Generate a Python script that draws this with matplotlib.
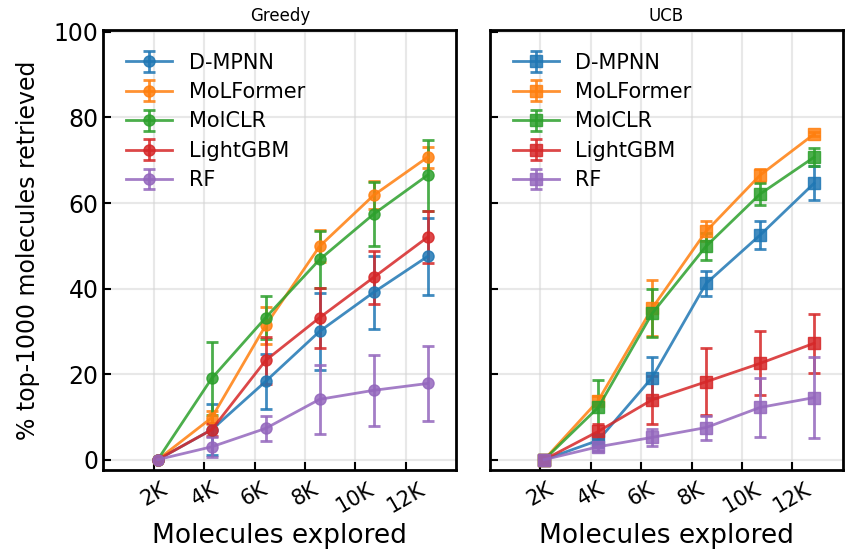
import numpy as np
import matplotlib.pyplot as plt

# Molecules explored at each acquisition step
explored = [2160, 4300, 6440, 8580, 10720, 12860]

models = ['D-MPNN', 'MoLFormer', 'MolCLR', 'LightGBM', 'RF']
colors = ['tab:blue', 'tab:orange', 'tab:green', 'tab:red', 'tab:purple']

# Greedy: mean and std of % top-1000 retrieved
greedy_mean = {
    'D-MPNN':    [0, 7.0, 18.3, 30.0, 39.1, 47.5],
    'MoLFormer': [0, 9.8, 31.4, 49.9, 61.8, 70.7],
    'MolCLR':    [0, 19.0, 33.2, 46.8, 57.4, 66.5],
    'LightGBM':  [0, 7.0, 23.2, 33.2, 42.6, 52.0],
    'RF':        [0, 3.0, 7.3, 14.1, 16.2, 17.8],
}
greedy_std = {
    'D-MPNN':    [0, 6.0, 6.5, 9.0, 8.5, 9.0],
    'MoLFormer': [0, 1.5, 4.3, 3.7, 3.3, 2.5],
    'MolCLR':    [0, 8.6, 5.0, 6.6, 7.4, 8.3],
    'LightGBM':  [0, 1.5, 5.5, 7.0, 6.2, 6.1],
    'RF':        [0, 2.3, 3.0, 8.0, 8.3, 8.7],
}

# UCB
ucb_mean = {
    'D-MPNN':    [0, 4.5, 19.2, 41.2, 52.5, 64.6],
    'MoLFormer': [0, 13.8, 35.4, 53.4, 66.5, 76.1],
    'MolCLR':    [0, 12.2, 34.2, 49.9, 62.1, 70.7],
    'LightGBM':  [0, 6.6, 14.0, 18.2, 22.5, 27.2],
    'RF':        [0, 3.0, 5.2, 7.5, 12.2, 14.5],
}
ucb_std = {
    'D-MPNN':    [0, 1.5, 4.7, 2.9, 3.3, 4.0],
    'MoLFormer': [0, 1.0, 6.5, 2.3, 1.5, 0.5],
    'MolCLR':    [0, 6.5, 5.6, 3.2, 2.5, 2.1],
    'LightGBM':  [0, 1.8, 5.6, 7.8, 7.5, 6.9],
    'RF':        [0, 1.0, 2.0, 2.8, 6.8, 9.4],
}

xticks = [2000, 4000, 6000, 8000, 10000, 12000]
xticklabels = ['2K', '4K', '6K', '8K', '10K', '12K']

fig, axes = plt.subplots(1, 2, figsize=(8.47, 5.52), dpi=100, sharey=True)
fig.subplots_adjust(left=0.122, right=0.995, top=0.946, bottom=0.148, wspace=0.095)

panels = [('Greedy', greedy_mean, greedy_std, 'o'),
          ('UCB', ucb_mean, ucb_std, 's')]

for ax, (title, means, stds, marker) in zip(axes, panels):
    for name, c in zip(models, colors):
        ax.errorbar(explored, means[name], yerr=stds[name], color=c,
                    marker=marker, markersize=8, lw=2, elinewidth=2,
                    capsize=4, capthick=2, alpha=0.85, label=name)
    ax.set_title(title, fontsize=12)
    ax.set_xlim(0, 14000)
    ax.set_ylim(-2.5, 100.5)
    ax.set_xticks(xticks)
    ax.set_xticklabels(xticklabels, rotation=30, fontsize=15)
    ax.set_yticks([0, 20, 40, 60, 80, 100])
    ax.tick_params(direction='in', length=6, width=1.5, labelsize=17)
    ax.tick_params(axis='x', labelsize=15, pad=6)
    ax.grid(True, color='lightgray', alpha=0.5, lw=1.5)
    ax.set_axisbelow(True)
    for s in ax.spines.values():
        s.set_linewidth(2)
    ax.set_xlabel('Molecules explored', fontsize=19, labelpad=5)
    ax.legend(loc='upper left', frameon=False, fontsize=15,
              handlelength=2.2, handletextpad=0.8, borderaxespad=0.7,
              labelspacing=0.45)

axes[1].tick_params(labelleft=False)
axes[0].set_ylabel('% top-1000 molecules retrieved', fontsize=17, labelpad=10)

plt.savefig('out.png', dpi=100)
